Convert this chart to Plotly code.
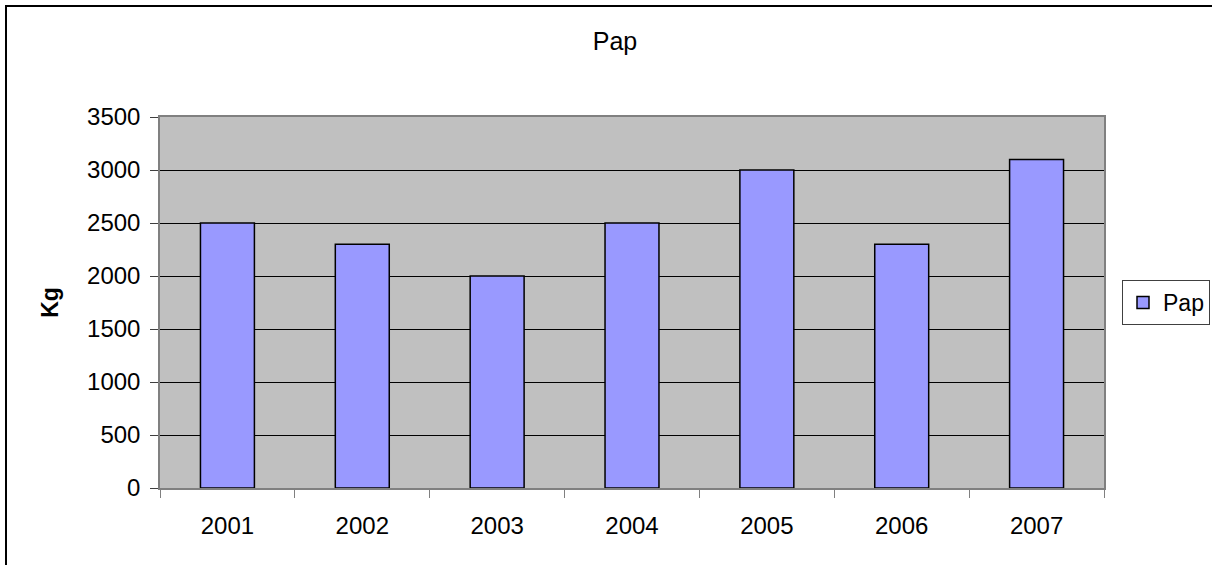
import plotly.graph_objects as go

years = ["2001", "2002", "2003", "2004", "2005", "2006", "2007"]
pap_values = [2500, 2300, 2000, 2500, 3000, 2300, 3100]
series_name = "Pap"
chart_title = "Pap"
y_title = "Kg"
y_ticks = [0, 500, 1000, 1500, 2000, 2500, 3000, 3500]

W, H = 1212, 565
L, R, T, B = 160, 108, 117, 77
pw, ph = W - L - R, H - T - B
FONT = "Liberation Sans, Arial, sans-serif"
FS = 24

fig = go.Figure()
fig.add_trace(go.Bar(
    x=years, y=pap_values, name=series_name,
    marker=dict(color="#9999FF", line=dict(color="black", width=1.5)),
    showlegend=True,
))

fig.update_layout(
    width=W, height=H,
    margin=dict(l=L, r=R, t=T, b=B, autoexpand=False),
    paper_bgcolor="white", plot_bgcolor="#C0C0C0",
    font=dict(family=FONT, size=FS, color="black"),
    bargap=0.6,
    title=dict(text=chart_title, x=615 / W, xanchor="center", xref="container",
               y=1 - 41 / H, yanchor="middle", yref="container",
               font=dict(family=FONT, size=25, color="black")),
    showlegend=True,
    legend=dict(x=(1122 - L) / pw, xanchor="left", y=(H - B - 280) / ph, yanchor="top",
                bordercolor="#404040", borderwidth=1, bgcolor="white",
                font=dict(family=FONT, size=23, color="black"),
                itemwidth=30, tracegroupgap=0),
    xaxis=dict(type="category", showline=True, linecolor="#808080", linewidth=1.5,
               mirror=True, ticks="outside", tickson="boundaries", ticklen=8,
               tickcolor="#808080", tickwidth=1, showgrid=False,
               ticklabelstandoff=15, tickfont=dict(family=FONT, size=FS)),
    yaxis=dict(range=[0, 3500], tickvals=y_ticks, showline=True, linecolor="#808080",
               linewidth=1.5, mirror=True, ticks="outside", ticklen=8, tickcolor="#404040",
               showgrid=True, gridcolor="black", gridwidth=1, zeroline=False,
               ticklabelstandoff=5, tickfont=dict(family=FONT, size=FS)),
)
fig.update_yaxes(title=dict(text="<b>" + y_title + "</b>", standoff=22,
                            font=dict(family=FONT, size=23, color="black")))

# outer chart border
fig.add_shape(type="rect", xref="paper", yref="paper",
              x0=(6 - L) / pw, x1=(W + 5 - L) / pw,
              y0=(H - B - (H + 5)) / ph, y1=(H - B - 6) / ph,
              line=dict(color="black", width=2), fillcolor="rgba(0,0,0,0)", layer="below")

fig.write_html("out.html", config={"displayModeBar": False},
               post_script="document.body.style.margin='0';document.body.style.overflow='hidden';")
